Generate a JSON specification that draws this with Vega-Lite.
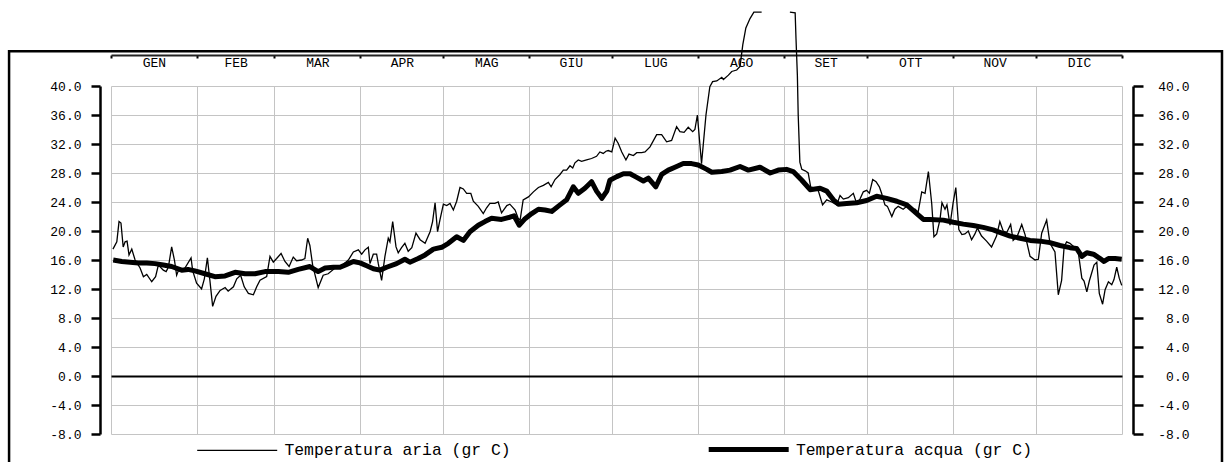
{
  "$schema": "https://vega.github.io/schema/vega-lite/v6.json",
  "width": 1011,
  "height": 348,
  "autosize": {"type": "none"},
  "padding": {"left": 111, "top": 86, "right": 106, "bottom": 28},
  "background": "white",
  "config": {"view": {"stroke": null}, "font": "Liberation Mono"},
  "datasets": {
    "aria": [
      {"giorno": 0.7, "temperatura": 17.5}, {"giorno": 2.1, "temperatura": 18.5}, {"giorno": 2.9, "temperatura": 21.3}, {"giorno": 3.6, "temperatura": 21.1},
      {"giorno": 4.4, "temperatura": 17.8}, {"giorno": 5.1, "temperatura": 18.5}, {"giorno": 5.8, "temperatura": 18.6}, {"giorno": 6.5, "temperatura": 16.7},
      {"giorno": 7.5, "temperatura": 17.5}, {"giorno": 8.7, "temperatura": 16.0}, {"giorno": 10.5, "temperatura": 14.9}, {"giorno": 11.7, "temperatura": 13.7},
      {"giorno": 12.9, "temperatura": 14.0}, {"giorno": 14.7, "temperatura": 13.0}, {"giorno": 16.1, "temperatura": 13.7}, {"giorno": 17.1, "temperatura": 15.3},
      {"giorno": 18.9, "temperatura": 14.6}, {"giorno": 19.9, "temperatura": 14.4}, {"giorno": 20.7, "temperatura": 15.0}, {"giorno": 21.9, "temperatura": 17.8},
      {"giorno": 22.9, "temperatura": 16.0}, {"giorno": 23.7, "temperatura": 13.9}, {"giorno": 24.3, "temperatura": 14.5}, {"giorno": 26.7, "temperatura": 14.9},
      {"giorno": 28.9, "temperatura": 16.3}, {"giorno": 29.5, "temperatura": 14.5}, {"giorno": 30.9, "temperatura": 12.8}, {"giorno": 32.7, "temperatura": 12.0},
      {"giorno": 33.7, "temperatura": 13.4}, {"giorno": 34.8, "temperatura": 16.3}, {"giorno": 35.7, "temperatura": 13.2}, {"giorno": 36.7, "temperatura": 9.6},
      {"giorno": 37.9, "temperatura": 11.0}, {"giorno": 39.4, "temperatura": 11.8}, {"giorno": 41.2, "temperatura": 12.2}, {"giorno": 42.3, "temperatura": 11.7},
      {"giorno": 44.2, "temperatura": 12.3}, {"giorno": 45.4, "temperatura": 13.4}, {"giorno": 46.8, "temperatura": 13.9}, {"giorno": 48.1, "temperatura": 12.3},
      {"giorno": 49.6, "temperatura": 11.4}, {"giorno": 51.4, "temperatura": 11.2}, {"giorno": 52.6, "temperatura": 12.3}, {"giorno": 53.8, "temperatura": 13.2},
      {"giorno": 56.2, "temperatura": 13.7}, {"giorno": 57.4, "temperatura": 16.5}, {"giorno": 58.6, "temperatura": 15.7}, {"giorno": 59.8, "temperatura": 16.2},
      {"giorno": 61.4, "temperatura": 16.9}, {"giorno": 62.8, "temperatura": 15.8}, {"giorno": 64.3, "temperatura": 15.1}, {"giorno": 65.8, "temperatura": 16.4},
      {"giorno": 67.0, "temperatura": 15.9}, {"giorno": 68.8, "temperatura": 16.0}, {"giorno": 70.0, "temperatura": 16.2}, {"giorno": 71.0, "temperatura": 19.0},
      {"giorno": 71.8, "temperatura": 18.0}, {"giorno": 72.8, "temperatura": 15.3}, {"giorno": 74.8, "temperatura": 12.2}, {"giorno": 76.6, "temperatura": 13.9},
      {"giorno": 78.4, "temperatura": 14.1}, {"giorno": 80.9, "temperatura": 14.9}, {"giorno": 83.3, "temperatura": 15.2}, {"giorno": 85.7, "temperatura": 16.0},
      {"giorno": 87.5, "temperatura": 17.1}, {"giorno": 89.3, "temperatura": 17.4}, {"giorno": 90.5, "temperatura": 16.8}, {"giorno": 91.7, "temperatura": 17.4},
      {"giorno": 92.9, "temperatura": 17.75}, {"giorno": 93.5, "temperatura": 15.5}, {"giorno": 94.7, "temperatura": 16.8}, {"giorno": 95.9, "temperatura": 16.8},
      {"giorno": 96.5, "temperatura": 15.5}, {"giorno": 97.7, "temperatura": 13.2}, {"giorno": 98.9, "temperatura": 16.5}, {"giorno": 100.1, "temperatura": 19.0},
      {"giorno": 100.7, "temperatura": 18.5}, {"giorno": 101.7, "temperatura": 21.3}, {"giorno": 102.9, "temperatura": 17.8}, {"giorno": 103.7, "temperatura": 17.0},
      {"giorno": 104.9, "temperatura": 17.7}, {"giorno": 106.1, "temperatura": 18.3}, {"giorno": 107.3, "temperatura": 17.2}, {"giorno": 108.6, "temperatura": 17.7},
      {"giorno": 110.1, "temperatura": 19.7}, {"giorno": 111.6, "temperatura": 18.8}, {"giorno": 113.4, "temperatura": 18.3}, {"giorno": 115.2, "temperatura": 19.9},
      {"giorno": 116.1, "temperatura": 21.3}, {"giorno": 117.0, "temperatura": 23.9}, {"giorno": 117.9, "temperatura": 19.9}, {"giorno": 118.8, "temperatura": 21.6},
      {"giorno": 120.0, "temperatura": 23.7}, {"giorno": 121.2, "temperatura": 23.5}, {"giorno": 122.4, "temperatura": 23.8}, {"giorno": 123.6, "temperatura": 22.9},
      {"giorno": 124.8, "temperatura": 24.1}, {"giorno": 126.0, "temperatura": 26.0}, {"giorno": 127.2, "temperatura": 25.8}, {"giorno": 128.4, "temperatura": 25.2},
      {"giorno": 129.9, "temperatura": 25.2}, {"giorno": 130.8, "temperatura": 24.1}, {"giorno": 132.6, "temperatura": 23.4}, {"giorno": 134.4, "temperatura": 22.4},
      {"giorno": 135.6, "temperatura": 23.2}, {"giorno": 136.8, "temperatura": 23.8}, {"giorno": 138.6, "temperatura": 23.8}, {"giorno": 139.8, "temperatura": 24.0},
      {"giorno": 141.0, "temperatura": 22.5}, {"giorno": 142.9, "temperatura": 23.5}, {"giorno": 144.0, "temperatura": 23.7}, {"giorno": 145.9, "temperatura": 22.9},
      {"giorno": 147.0, "temperatura": 21.75}, {"giorno": 147.7, "temperatura": 21.5}, {"giorno": 148.8, "temperatura": 24.3}, {"giorno": 150.7, "temperatura": 24.7},
      {"giorno": 152.5, "temperatura": 25.4}, {"giorno": 154.3, "temperatura": 26.0}, {"giorno": 156.1, "temperatura": 26.3}, {"giorno": 157.9, "temperatura": 26.7},
      {"giorno": 158.9, "temperatura": 26.1}, {"giorno": 160.3, "temperatura": 27.1}, {"giorno": 162.1, "temperatura": 27.8}, {"giorno": 163.3, "temperatura": 28.4},
      {"giorno": 164.5, "temperatura": 28.4}, {"giorno": 165.7, "temperatura": 29.0}, {"giorno": 166.7, "temperatura": 28.7}, {"giorno": 167.5, "temperatura": 29.4},
      {"giorno": 168.7, "temperatura": 29.8}, {"giorno": 169.9, "temperatura": 29.6}, {"giorno": 171.7, "temperatura": 29.8}, {"giorno": 173.5, "temperatura": 30.0},
      {"giorno": 175.3, "temperatura": 30.3}, {"giorno": 176.5, "temperatura": 30.9}, {"giorno": 177.7, "temperatura": 30.7}, {"giorno": 178.7, "temperatura": 31.0},
      {"giorno": 179.5, "temperatura": 31.1}, {"giorno": 180.8, "temperatura": 30.9}, {"giorno": 182.0, "temperatura": 32.8}, {"giorno": 183.1, "temperatura": 32.1},
      {"giorno": 184.4, "temperatura": 30.9}, {"giorno": 185.9, "temperatura": 29.8}, {"giorno": 187.0, "temperatura": 30.6}, {"giorno": 188.6, "temperatura": 30.4},
      {"giorno": 189.8, "temperatura": 30.8}, {"giorno": 191.6, "temperatura": 30.8}, {"giorno": 192.8, "temperatura": 30.9}, {"giorno": 194.6, "temperatura": 31.6},
      {"giorno": 197.0, "temperatura": 33.3}, {"giorno": 198.8, "temperatura": 33.3}, {"giorno": 200.6, "temperatura": 32.3}, {"giorno": 202.4, "temperatura": 32.5},
      {"giorno": 204.2, "temperatura": 34.4}, {"giorno": 205.4, "temperatura": 33.7}, {"giorno": 206.9, "temperatura": 33.6}, {"giorno": 208.4, "temperatura": 34.3},
      {"giorno": 210.0, "temperatura": 33.7}, {"giorno": 210.8, "temperatura": 34.0}, {"giorno": 211.7, "temperatura": 36.0}, {"giorno": 213.2, "temperatura": 29.3},
      {"giorno": 214.8, "temperatura": 36.0}, {"giorno": 216.2, "temperatura": 39.9}, {"giorno": 217.2, "temperatura": 40.6}, {"giorno": 218.7, "temperatura": 40.7},
      {"giorno": 220.5, "temperatura": 41.2}, {"giorno": 221.1, "temperatura": 40.9}, {"giorno": 222.9, "temperatura": 41.5}, {"giorno": 224.1, "temperatura": 42.0},
      {"giorno": 225.9, "temperatura": 42.2}, {"giorno": 227.1, "temperatura": 42.7}, {"giorno": 228.1, "temperatura": 45.7}, {"giorno": 229.2, "temperatura": 48.0},
      {"giorno": 230.7, "temperatura": 49.3}, {"giorno": 232.1, "temperatura": 50.2}, {"giorno": 234.9, "temperatura": 50.2}, {"giorno": 240.0, "temperatura": null},
      {"giorno": 245.1, "temperatura": 50.2}, {"giorno": 247.0, "temperatura": 50.1}, {"giorno": 247.3, "temperatura": 46.6}, {"giorno": 247.8, "temperatura": 41.5},
      {"giorno": 248.1, "temperatura": 36.0}, {"giorno": 248.7, "temperatura": 29.5}, {"giorno": 249.4, "temperatura": 28.5}, {"giorno": 250.6, "temperatura": 28.3},
      {"giorno": 251.7, "temperatura": 28.0}, {"giorno": 252.6, "temperatura": 26.1}, {"giorno": 254.2, "temperatura": 25.9}, {"giorno": 255.4, "temperatura": 25.5},
      {"giorno": 256.9, "temperatura": 23.6}, {"giorno": 258.4, "temperatura": 24.3}, {"giorno": 260.2, "temperatura": 24.0}, {"giorno": 262.0, "temperatura": 23.6},
      {"giorno": 263.2, "temperatura": 24.9}, {"giorno": 264.4, "temperatura": 24.4}, {"giorno": 266.2, "temperatura": 24.6}, {"giorno": 268.0, "temperatura": 25.2},
      {"giorno": 269.2, "temperatura": 23.8}, {"giorno": 270.4, "temperatura": 24.4}, {"giorno": 271.6, "temperatura": 25.4}, {"giorno": 272.8, "temperatura": 25.6},
      {"giorno": 273.8, "temperatura": 25.2}, {"giorno": 275.0, "temperatura": 27.1}, {"giorno": 276.2, "temperatura": 26.8}, {"giorno": 277.4, "temperatura": 26.1},
      {"giorno": 278.2, "temperatura": 25.2}, {"giorno": 279.4, "temperatura": 23.6}, {"giorno": 280.3, "temperatura": 23.4}, {"giorno": 281.9, "temperatura": 22.0},
      {"giorno": 283.0, "temperatura": 23.0}, {"giorno": 284.2, "temperatura": 23.4}, {"giorno": 286.0, "temperatura": 23.0}, {"giorno": 287.3, "temperatura": 23.4},
      {"giorno": 289.1, "temperatura": 22.9}, {"giorno": 290.3, "temperatura": 23.0}, {"giorno": 291.4, "temperatura": 22.6}, {"giorno": 292.7, "temperatura": 25.4},
      {"giorno": 293.9, "temperatura": 25.2}, {"giorno": 295.1, "temperatura": 28.2}, {"giorno": 296.3, "temperatura": 23.8}, {"giorno": 297.1, "temperatura": 19.2},
      {"giorno": 298.1, "temperatura": 19.6}, {"giorno": 299.3, "temperatura": 21.6}, {"giorno": 300.0, "temperatura": 23.9}, {"giorno": 301.1, "temperatura": 23.0},
      {"giorno": 301.8, "temperatura": 23.6}, {"giorno": 302.9, "temperatura": 20.8}, {"giorno": 304.0, "temperatura": 23.8}, {"giorno": 305.0, "temperatura": 26.0},
      {"giorno": 306.1, "temperatura": 20.2}, {"giorno": 307.2, "temperatura": 19.5}, {"giorno": 308.3, "temperatura": 19.6}, {"giorno": 309.5, "temperatura": 20.0},
      {"giorno": 310.7, "temperatura": 18.8}, {"giorno": 311.9, "temperatura": 19.6}, {"giorno": 312.8, "temperatura": 20.4}, {"giorno": 314.3, "temperatura": 19.3},
      {"giorno": 316.1, "temperatura": 18.6}, {"giorno": 317.9, "temperatura": 17.8}, {"giorno": 319.7, "temperatura": 19.3}, {"giorno": 320.9, "temperatura": 21.3},
      {"giorno": 322.1, "temperatura": 20.0}, {"giorno": 323.4, "temperatura": 19.8}, {"giorno": 324.8, "temperatura": 20.9}, {"giorno": 325.7, "temperatura": 18.7},
      {"giorno": 327.2, "temperatura": 19.3}, {"giorno": 328.8, "temperatura": 20.9}, {"giorno": 330.0, "temperatura": 19.5}, {"giorno": 331.8, "temperatura": 16.5},
      {"giorno": 333.6, "temperatura": 16.0}, {"giorno": 334.8, "temperatura": 16.1}, {"giorno": 336.0, "temperatura": 19.7}, {"giorno": 337.8, "temperatura": 21.5},
      {"giorno": 339.0, "temperatura": 18.3}, {"giorno": 340.8, "temperatura": 17.1}, {"giorno": 342.0, "temperatura": 11.2}, {"giorno": 343.2, "temperatura": 13.2},
      {"giorno": 344.1, "temperatura": 17.8}, {"giorno": 345.0, "temperatura": 18.5}, {"giorno": 346.2, "temperatura": 18.3}, {"giorno": 347.7, "temperatura": 17.8},
      {"giorno": 349.2, "temperatura": 17.1}, {"giorno": 350.5, "temperatura": 13.5}, {"giorno": 351.3, "temperatura": 13.1}, {"giorno": 352.3, "temperatura": 11.6},
      {"giorno": 353.2, "temperatura": 13.1}, {"giorno": 354.9, "temperatura": 15.3}, {"giorno": 355.9, "temperatura": 15.7}, {"giorno": 356.8, "temperatura": 11.4},
      {"giorno": 358.0, "temperatura": 9.9}, {"giorno": 358.9, "temperatura": 11.9}, {"giorno": 360.1, "temperatura": 13.0}, {"giorno": 361.3, "temperatura": 12.6},
      {"giorno": 362.1, "temperatura": 13.3}, {"giorno": 363.1, "temperatura": 15.0}, {"giorno": 364.0, "temperatura": 13.5}, {"giorno": 364.9, "temperatura": 12.5}
    ],
    "acqua": [
      {"giorno": 0.8, "temperatura": 16.0}, {"giorno": 3.9, "temperatura": 15.8}, {"giorno": 6.9, "temperatura": 15.7}, {"giorno": 9.9, "temperatura": 15.6},
      {"giorno": 12.9, "temperatura": 15.6}, {"giorno": 15.9, "temperatura": 15.5}, {"giorno": 18.9, "temperatura": 15.3}, {"giorno": 21.9, "temperatura": 15.1},
      {"giorno": 25.5, "temperatura": 14.6}, {"giorno": 27.8, "temperatura": 14.7}, {"giorno": 30.3, "temperatura": 14.5}, {"giorno": 33.9, "temperatura": 14.1},
      {"giorno": 37.5, "temperatura": 13.7}, {"giorno": 41.2, "temperatura": 13.8}, {"giorno": 44.8, "temperatura": 14.3}, {"giorno": 48.4, "temperatura": 14.1},
      {"giorno": 52.0, "temperatura": 14.1}, {"giorno": 55.6, "temperatura": 14.4}, {"giorno": 60.4, "temperatura": 14.4}, {"giorno": 64.0, "temperatura": 14.3},
      {"giorno": 67.6, "temperatura": 14.7}, {"giorno": 71.8, "temperatura": 15.1}, {"giorno": 74.8, "temperatura": 14.4}, {"giorno": 77.3, "temperatura": 14.9},
      {"giorno": 80.3, "temperatura": 15.0}, {"giorno": 82.7, "temperatura": 15.0}, {"giorno": 85.1, "temperatura": 15.4}, {"giorno": 87.5, "temperatura": 15.8},
      {"giorno": 89.9, "temperatura": 15.6}, {"giorno": 92.3, "temperatura": 15.2}, {"giorno": 94.7, "temperatura": 14.8}, {"giorno": 97.1, "temperatura": 14.6},
      {"giorno": 99.5, "temperatura": 15.0}, {"giorno": 103.1, "temperatura": 15.5}, {"giorno": 106.1, "temperatura": 16.1}, {"giorno": 107.9, "temperatura": 15.7},
      {"giorno": 110.9, "temperatura": 16.2}, {"giorno": 113.4, "temperatura": 16.7}, {"giorno": 116.4, "temperatura": 17.5}, {"giorno": 119.4, "temperatura": 17.75},
      {"giorno": 121.8, "temperatura": 18.3}, {"giorno": 124.8, "temperatura": 19.2}, {"giorno": 127.2, "temperatura": 18.7}, {"giorno": 129.6, "temperatura": 19.9},
      {"giorno": 132.6, "temperatura": 20.8}, {"giorno": 135.0, "temperatura": 21.3}, {"giorno": 137.4, "temperatura": 21.75}, {"giorno": 141.0, "temperatura": 21.6},
      {"giorno": 144.0, "temperatura": 21.9}, {"giorno": 145.5, "temperatura": 22.1}, {"giorno": 147.4, "temperatura": 20.8}, {"giorno": 149.5, "temperatura": 21.7},
      {"giorno": 151.9, "temperatura": 22.4}, {"giorno": 154.3, "temperatura": 23.0}, {"giorno": 156.7, "temperatura": 22.9}, {"giorno": 159.1, "temperatura": 22.7},
      {"giorno": 162.1, "temperatura": 23.6}, {"giorno": 164.5, "temperatura": 24.3}, {"giorno": 166.9, "temperatura": 26.1}, {"giorno": 168.7, "temperatura": 25.2},
      {"giorno": 171.1, "temperatura": 25.9}, {"giorno": 173.5, "temperatura": 26.8}, {"giorno": 175.3, "temperatura": 25.5}, {"giorno": 177.2, "temperatura": 24.5},
      {"giorno": 179.0, "temperatura": 25.5}, {"giorno": 180.1, "temperatura": 27.0}, {"giorno": 182.6, "temperatura": 27.5}, {"giorno": 185.0, "temperatura": 27.9},
      {"giorno": 187.4, "temperatura": 27.9}, {"giorno": 189.8, "temperatura": 27.4}, {"giorno": 192.2, "temperatura": 26.9}, {"giorno": 194.0, "temperatura": 27.3},
      {"giorno": 196.7, "temperatura": 26.1}, {"giorno": 198.8, "temperatura": 27.8}, {"giorno": 201.2, "temperatura": 28.4}, {"giorno": 203.6, "temperatura": 28.8},
      {"giorno": 206.6, "temperatura": 29.3}, {"giorno": 209.6, "temperatura": 29.3}, {"giorno": 212.0, "temperatura": 29.1}, {"giorno": 215.1, "temperatura": 28.5},
      {"giorno": 216.9, "temperatura": 28.1}, {"giorno": 220.5, "temperatura": 28.2}, {"giorno": 223.5, "temperatura": 28.4}, {"giorno": 227.1, "temperatura": 28.9},
      {"giorno": 230.1, "temperatura": 28.4}, {"giorno": 234.3, "temperatura": 28.8}, {"giorno": 238.0, "temperatura": 28.0}, {"giorno": 240.9, "temperatura": 28.4},
      {"giorno": 243.9, "temperatura": 28.5}, {"giorno": 246.3, "temperatura": 28.2}, {"giorno": 249.4, "temperatura": 27.0}, {"giorno": 252.4, "temperatura": 25.7},
      {"giorno": 256.0, "temperatura": 25.9}, {"giorno": 258.4, "temperatura": 25.5}, {"giorno": 260.8, "temperatura": 24.3}, {"giorno": 262.6, "temperatura": 23.7},
      {"giorno": 265.6, "temperatura": 23.8}, {"giorno": 269.2, "temperatura": 23.9}, {"giorno": 272.8, "temperatura": 24.2}, {"giorno": 276.4, "temperatura": 24.8},
      {"giorno": 280.0, "temperatura": 24.5}, {"giorno": 283.7, "temperatura": 24.1}, {"giorno": 287.3, "temperatura": 23.6}, {"giorno": 290.9, "temperatura": 22.4},
      {"giorno": 293.3, "temperatura": 21.6}, {"giorno": 295.7, "temperatura": 21.6}, {"giorno": 300.5, "temperatura": 21.5}, {"giorno": 304.1, "temperatura": 21.2},
      {"giorno": 307.7, "temperatura": 20.95}, {"giorno": 311.3, "temperatura": 20.75}, {"giorno": 314.9, "temperatura": 20.5}, {"giorno": 318.5, "temperatura": 20.15},
      {"giorno": 321.6, "temperatura": 19.7}, {"giorno": 324.6, "temperatura": 19.3}, {"giorno": 328.2, "temperatura": 19.0}, {"giorno": 331.8, "temperatura": 18.7},
      {"giorno": 335.4, "temperatura": 18.6}, {"giorno": 339.0, "temperatura": 18.4}, {"giorno": 342.6, "temperatura": 18.0}, {"giorno": 346.2, "temperatura": 17.7},
      {"giorno": 348.6, "temperatura": 17.6}, {"giorno": 350.5, "temperatura": 16.5}, {"giorno": 352.3, "temperatura": 17.0}, {"giorno": 354.7, "temperatura": 16.8},
      {"giorno": 357.1, "temperatura": 16.2}, {"giorno": 358.5, "temperatura": 15.8}, {"giorno": 360.1, "temperatura": 16.2}, {"giorno": 362.5, "temperatura": 16.2},
      {"giorno": 364.9, "temperatura": 16.1}
    ]
  },
  "resolve": {"axis": {"x": "independent", "y": "independent"}},
  "layer": [
    {
      "data": {"values": [{}]},
      "mark": {"type": "rect", "fill": null, "stroke": "black", "strokeWidth": 2.5, "clip": false},
      "encoding": {
        "x": {"datum": -36.8, "type": "quantitative", "scale": {"domain": [0, 365], "nice": false, "zero": false}, "axis": null},
        "x2": {"datum": 401.1},
        "y": {"datum": 44.8, "type": "quantitative", "scale": {"domain": [-8, 40], "nice": false, "zero": false}, "axis": null},
        "y2": {"datum": -14}
      }
    },
    {
      "data": {"name": "aria"},
      "mark": {"type": "line", "stroke": "black", "strokeWidth": 1.3, "clip": false, "invalid": "break-paths-filter-domains"},
      "encoding": {
        "x": {
          "field": "giorno", "type": "quantitative",
          "scale": {"domain": [0, 365], "nice": false, "zero": false},
          "axis": {
            "orient": "top", "offset": 31, "title": null,
            "values": [0, 15.5, 31, 45, 59, 74.5, 90, 105, 120, 135.5, 151, 166, 181, 196.5, 212, 227.5, 243, 258, 273, 288.5, 304, 319, 334, 349.5, 365],
            "labelExpr": "indexof([15.5,45,74.5,105,135.5,166,196.5,227.5,258,288.5,319,349.5], datum.value) >= 0 ? ['GEN','FEB','MAR','APR','MAG','GIU','LUG','AGO','SET','OTT','NOV','DIC'][indexof([15.5,45,74.5,105,135.5,166,196.5,227.5,258,288.5,319,349.5], datum.value)] : ''",
            "domain": true, "domainColor": "#222222", "domainWidth": 2,
            "ticks": true, "tickSize": -3, "tickWidth": 2, "tickColor": "black",
            "tickOpacity": {"condition": {"test": "indexof([0,31,59,90,120,151,181,212,243,273,304,334,365], datum.value) >= 0", "value": 1}, "value": 0},
            "grid": true, "gridColor": "#c4c4c4", "gridWidth": 1,
            "gridOpacity": {"condition": {"test": "indexof([0,31,59,90,120,151,181,212,243,273,304,334,365], datum.value) >= 0", "value": 1}, "value": 0},
            "labelFont": "Liberation Mono", "labelFontSize": 13, "labelColor": "black",
            "labelPadding": -4.5, "labelBaseline": "middle", "labelOverlap": false, "labelFlush": false, "labelBound": false
          }
        },
        "y": {
          "field": "temperatura", "type": "quantitative",
          "scale": {"domain": [-8, 40], "nice": false, "zero": false},
          "axis": {
            "orient": "left", "offset": 11, "title": null,
            "values": [-8, -4, 0, 4, 8, 12, 16, 20, 24, 28, 32, 36, 40],
            "labelExpr": "(datum.value < 0 ? '-' : '') + format(abs(datum.value), '.1f')",
            "domain": true, "domainColor": "black", "domainWidth": 2.5,
            "ticks": true, "tickSize": 9, "tickWidth": 2.5, "tickColor": "black",
            "labelPadding": 10, "labelFont": "Liberation Mono", "labelFontSize": 13, "labelColor": "black",
            "labelOverlap": false, "labelFlush": false,
            "grid": true,
            "gridColor": {"condition": {"test": "datum.value === 0", "value": "black"}, "value": "#c4c4c4"},
            "gridWidth": {"condition": {"test": "datum.value === 0", "value": 2}, "value": 1}
          }
        },
        "color": {
          "datum": "Temperatura aria (gr C)",
          "scale": {"domain": ["Temperatura aria (gr C)", "Temperatura acqua (gr C)"], "range": ["black", "black"]},
          "legend": {
            "orient": "none", "legendX": 118, "legendY": 355, "direction": "horizontal", "title": null,
            "symbolType": "stroke", "symbolSize": 6400, "symbolStrokeColor": "black",
            "labelFont": "Liberation Mono", "labelFontSize": 16.4, "labelColor": "black", "labelOffset": 39, "labelLimit": 0,
            "columnPadding": 187.5, "padding": 0,
            "encode": {"symbols": {"update": {"stroke": {"value": "black"}, "strokeWidth": {"signal": "datum.value === 'Temperatura acqua (gr C)' ? 5 : 1.3"}}}}
          }
        }
      }
    },
    {
      "data": {"name": "acqua"},
      "mark": {"type": "line", "stroke": "black", "strokeWidth": 5, "strokeJoin": "round", "clip": false},
      "encoding": {
        "x": {"field": "giorno", "type": "quantitative", "scale": {"domain": [0, 365], "nice": false, "zero": false}, "axis": null},
        "y": {
          "field": "temperatura", "type": "quantitative",
          "scale": {"domain": [-8, 40], "nice": false, "zero": false},
          "axis": {
            "orient": "right", "offset": 11, "title": null,
            "values": [-8, -4, 0, 4, 8, 12, 16, 20, 24, 28, 32, 36, 40],
            "labelExpr": "(datum.value < 0 ? '-' : '') + format(abs(datum.value), '.1f')",
            "domain": true, "domainColor": "black", "domainWidth": 2.5,
            "ticks": true, "tickSize": 10, "tickWidth": 2.5, "tickColor": "black",
            "labelPadding": 46, "labelAlign": "right", "labelFont": "Liberation Mono", "labelFontSize": 13, "labelColor": "black",
            "labelOverlap": false, "labelFlush": false, "grid": false
          }
        },
        "color": {
          "datum": "Temperatura acqua (gr C)",
          "scale": {"domain": ["Temperatura aria (gr C)", "Temperatura acqua (gr C)"], "range": ["black", "black"]},
          "legend": {
            "orient": "none", "legendX": 118, "legendY": 355, "direction": "horizontal", "title": null,
            "symbolType": "stroke", "symbolSize": 6400, "symbolStrokeColor": "black",
            "labelFont": "Liberation Mono", "labelFontSize": 16.4, "labelColor": "black", "labelOffset": 39, "labelLimit": 0,
            "columnPadding": 187.5, "padding": 0,
            "encode": {"symbols": {"update": {"stroke": {"value": "black"}, "strokeWidth": {"signal": "datum.value === 'Temperatura acqua (gr C)' ? 5 : 1.3"}}}}
          }
        }
      }
    }
  ]
}
